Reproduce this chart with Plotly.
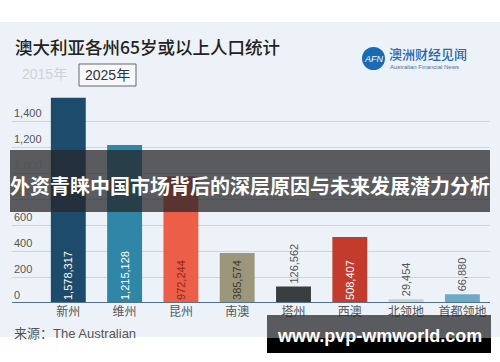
import plotly.graph_objects as go

categories = ["新州", "维州", "昆州", "南澳", "塔州", "西澳", "北领地", "首都领地"]
values = [1578317, 1215128, 972244, 385574, 126562, 508407, 29454, 66880]
bar_colors = ["#1c4b6c", "#2f86a6", "#ec5e47", "#9c977a", "#3b3e41", "#c23b2c", "#c9cfca", "#6eaac6"]
label_pos = ["inside", "inside", "inside", "inside", "outside", "inside", "outside", "outside"]
label_colors = ["white", "white", "#8a2a1e", "#3a3a35", "#555555", "white", "#555555", "#555555"]
y_ticks = [0, 200, 400, 600, 800, 1000, 1200, 1400]
y_tick_text = ["0", "200", "400", "600", "800", "1,000", "1,200", "1,400"]

W, H = 500, 362
FONT = "Noto Sans CJK SC"

def py(p):  # pixel y -> paper y
    return 1 - p / H

def px(p):
    return p / W

x_pos = list(range(len(categories)))
fig = go.Figure()
fig.add_trace(go.Bar(
    x=x_pos,
    y=[v / 1000 for v in values],
    marker=dict(color=bar_colors, line=dict(width=0)),
    text=[f"{v:,}" for v in values],
    textposition=label_pos,
    insidetextanchor="start",
    textangle=-90,
    constraintext="none",
    cliponaxis=False,
    textfont=dict(family="Liberation Sans, Arial", size=11, color=label_colors),
    outsidetextfont=dict(family="Liberation Sans, Arial", size=11, color=label_colors),
    hoverinfo="skip",
))

shapes = []
annotations = []

# light background panel
shapes.append(dict(type="rect", xref="paper", yref="paper", x0=0, x1=1, y0=py(337), y1=py(22),
                   fillcolor="#edf2f8", line=dict(width=0), layer="below"))
# baseline
shapes.append(dict(type="line", xref="paper", yref="y", x0=px(12), x1=px(490), y0=0, y1=0,
                   line=dict(color="#4f7190", width=2), layer="above"))

# y tick labels above the gridlines
for v, t in zip(y_ticks, y_tick_text):
    annotations.append(dict(xref="paper", yref="y", x=px(12), y=v, text=t, showarrow=False,
                            xanchor="left", yanchor="bottom", yshift=0,
                            font=dict(family="Liberation Sans, Arial", size=11, color="#555555")))

# title
annotations.append(dict(xref="paper", yref="paper", x=px(13), y=py(47), text="澳大利亚各州65岁或以上人口统计",
                        showarrow=False, xanchor="left", yanchor="middle",
                        font=dict(family=FONT, size=17.5, color="#222222", weight=500)))
annotations.append(dict(xref="paper", yref="paper", x=px(20), y=py(74), text="2015年",
                        showarrow=False, xanchor="left", yanchor="middle",
                        font=dict(family="Liberation Sans, " + FONT, size=14, color="#cdd2d9")))
shapes.append(dict(type="rect", xref="paper", yref="paper", x0=px(79), x1=px(136), y0=py(86), y1=py(64),
                   fillcolor="#f6f8fb", line=dict(color="#666666", width=1)))
annotations.append(dict(xref="paper", yref="paper", x=px(107.5), y=py(75), text="2025年",
                        showarrow=False, xanchor="center", yanchor="middle",
                        font=dict(family="Liberation Sans, " + FONT, size=14, color="#333333")))

# AFN logo
shapes.append(dict(type="circle", xref="paper", yref="paper", x0=px(362), x1=px(385), y0=py(70), y1=py(47),
                   fillcolor="#1a6bb3", line=dict(width=0)))
annotations.append(dict(xref="paper", yref="paper", x=px(373.5), y=py(58.5), text="<i>AFN</i>",
                        showarrow=False, xanchor="center", yanchor="middle",
                        font=dict(family="Liberation Sans", size=9, color="white")))
annotations.append(dict(xref="paper", yref="paper", x=px(387), y=py(54), text="澳洲财经见闻",
                        showarrow=False, xanchor="left", yanchor="middle",
                        font=dict(family=FONT, size=13, color="#2767b0", weight=500)))
annotations.append(dict(xref="paper", yref="paper", x=px(388), y=py(67), text="Australian Financial News",
                        showarrow=False, xanchor="left", yanchor="middle",
                        font=dict(family="Liberation Sans", size=6, color="#3f74ad")))

# source
annotations.append(dict(xref="paper", yref="paper", x=px(12), y=py(333), text="来源：The Australian",
                        showarrow=False, xanchor="left", yanchor="middle",
                        font=dict(family="Liberation Sans, " + FONT, size=13, color="#555555")))

# overlay banner
shapes.append(dict(type="rect", xref="paper", yref="paper", x0=px(10), x1=px(490), y0=py(212), y1=py(150),
                   fillcolor="rgba(38,38,40,0.74)", line=dict(width=0), layer="above"))
annotations.append(dict(xref="paper", yref="paper", x=px(250), y=py(185), text="<b>外资青睐中国市场背后的深层原因与未来发展潜力分析</b>",
                        showarrow=False, xanchor="center", yanchor="middle",
                        font=dict(family=FONT, size=20, color="white")))

# bottom-right url box
shapes.append(dict(type="rect", xref="paper", yref="paper", x0=px(267), x1=px(491), y0=py(338), y1=py(315),
                   fillcolor="rgba(38,38,40,0.74)", line=dict(width=0), layer="above"))
shapes.append(dict(type="rect", xref="paper", yref="paper", x0=px(267), x1=px(491), y0=py(353), y1=py(338),
                   fillcolor="#000000", line=dict(width=0), layer="above"))
annotations.append(dict(xref="paper", yref="paper", x=px(379), y=py(336), text="<b>www.pvp-wmworld.com</b>",
                        showarrow=False, xanchor="center", yanchor="middle",
                        font=dict(family="Liberation Sans", size=18, color="white")))

fig.update_layout(
    width=W, height=H,
    margin=dict(l=0, r=0, t=0, b=0),
    paper_bgcolor="white",
    plot_bgcolor="rgba(0,0,0,0)",
    showlegend=False,
    bargap=0.38,
    shapes=shapes,
    annotations=annotations,
    xaxis=dict(domain=[px(12), px(490)], range=[-1.0, 7.49], tickmode="array", tickvals=x_pos,
               ticktext=categories, showgrid=False, zeroline=False, showline=False, ticks="",
               tickfont=dict(family=FONT, size=12, color="#555555"), fixedrange=True),
    yaxis=dict(domain=[py(303), py(95)], range=[0, 1600], tickmode="array", tickvals=y_ticks,
               showticklabels=False, showgrid=True, gridcolor="#cdd4dc", gridwidth=1,
               zeroline=False, showline=False, fixedrange=True),
)

fig.write_html("out.html", config={"displayModeBar": False},
               post_script="document.body.style.margin='0';document.body.style.overflow='hidden';")
